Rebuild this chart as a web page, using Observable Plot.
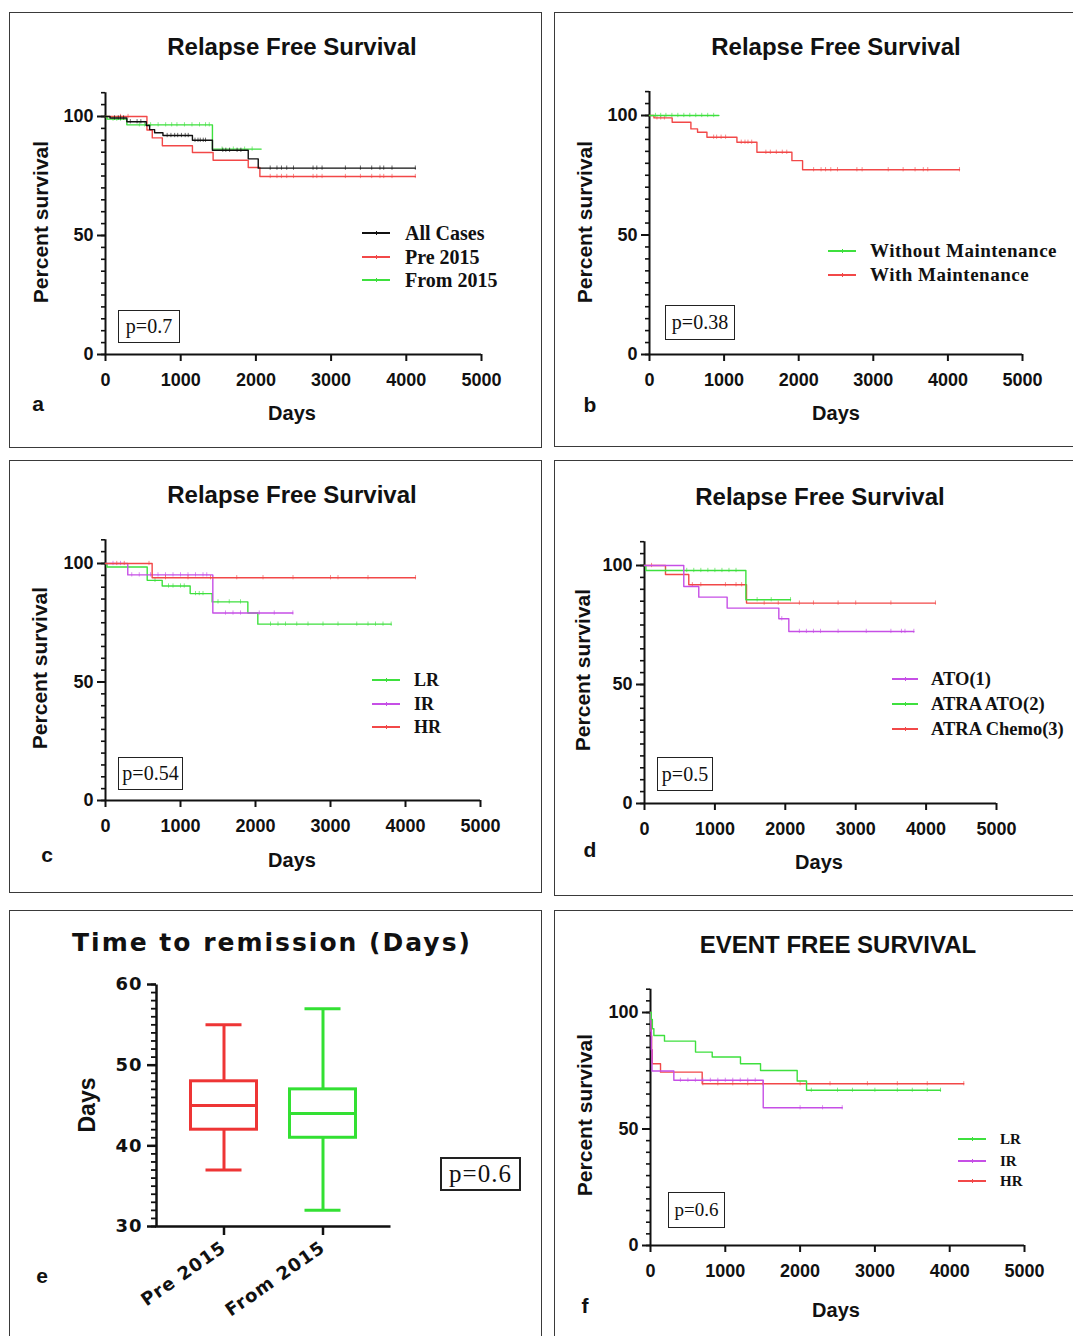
<!DOCTYPE html>
<html><head><meta charset="utf-8">
<script src="https://cdn.jsdelivr.net/npm/d3@7"></script>
<script src="https://cdn.jsdelivr.net/npm/@observablehq/plot@0.6"></script>
<style>
body{margin:0;background:#fff;}
#wrap{position:relative;width:1073px;height:1336px;overflow:hidden;background:#fff;}
.panel{position:absolute;border:1.6px solid #3a3a3a;box-sizing:border-box;}
.t{position:absolute;white-space:nowrap;color:#111;line-height:1;}
.c{transform:translate(-50%,-50%);}
.v{transform:translate(-50%,-50%) rotate(-90deg);}
.title{font:bold 24px 'Liberation Sans',Arial,sans-serif;}
.axl{font:bold 20px 'Liberation Sans',Arial,sans-serif;}
.axv{font:bold 21px 'Liberation Sans',Arial,sans-serif;}
.leg{font:bold 20px 'Liberation Serif','Times New Roman',serif;transform:translateY(-50%);}
.pbox{position:absolute;border:1.6px solid #222;font:20px 'Liberation Serif','Times New Roman',serif;display:flex;align-items:center;justify-content:center;box-sizing:border-box;color:#111;}
.lt{font:bold 21px 'Liberation Sans',Arial,sans-serif;}
.ll{position:absolute;height:1.4px;}
.lm{position:absolute;width:1px;height:4px;}
</style></head><body><div id="wrap"></div>
<script>
// ---------- Panel a: Relapse Free Survival ----------
const aAllDays = [0, 60, 284, 542, 587, 653, 764, 1156, 1422, 1898, 2031];
const aAllSurv = [100, 99.4, 97.8, 96.2, 94.5, 93.2, 92.0, 90.0, 85.8, 82.2, 78.3];
const aAllEnd = 4120;
const aAllCens = [120, 170, 200, 240, 330, 420, 470, 820, 870, 920, 960, 1010, 1060, 1100, 1190, 1230, 1260, 1300, 1330, 1560, 1600, 1650, 1750, 1800, 2190, 2280, 2340, 2410, 2500, 2760, 2810, 2880, 3190, 3390, 3540, 3650, 3700, 3810, 4120];
const aPreDays = [0, 551, 622, 756, 1156, 1431, 1898, 2053];
const aPreSurv = [100, 94.3, 91.0, 87.7, 84.9, 81.6, 78.6, 74.8];
const aPreEnd = 4120;
const aPreCens = [200, 300, 2190, 2280, 2340, 2410, 2500, 2760, 2810, 2880, 3190, 3390, 3540, 3650, 3700, 3810, 4120];
const aFromDays = [0, 20, 284, 1422];
const aFromSurv = [100, 98.9, 96.5, 86.3];
const aFromEnd = 2070;
const aFromCens = [100, 150, 200, 450, 520, 600, 700, 800, 880, 950, 1050, 1150, 1250, 1330, 1380, 1550, 1700, 1850, 1950];

// ---------- Panel b ----------
const bWithoutDays = [0];
const bWithoutSurv = [100];
const bWithoutEnd = 930;
const bWithoutCens = [80, 150, 220, 300, 380, 460, 540, 620, 700, 780, 860];
const bWithDays = [0, 60, 304, 555, 644, 770, 1172, 1440, 1909, 2052];
const bWithSurv = [100, 99.0, 97.2, 94.4, 93.0, 90.9, 88.8, 84.6, 81.1, 77.3];
const bWithEnd = 4155;
const bWithCens = [100, 150, 200, 860, 900, 960, 1020, 1230, 1280, 1320, 1370, 1560, 1620, 1700, 1780, 1840, 2200, 2300, 2360, 2430, 2520, 2780, 2850, 3200, 3400, 3560, 3670, 3730, 4155];

// ---------- Panel c ----------
const cLRDays = [0, 20, 556, 756, 1129, 1422, 1898, 2031];
const cLRSurv = [100, 98.5, 92.9, 90.5, 87.3, 83.8, 79.1, 74.4];
const cLREnd = 3809;
const cLRCens = [660, 840, 900, 1000, 1050, 1200, 1250, 1300, 1500, 1650, 1800, 2200, 2300, 2400, 2550, 2700, 2900, 3100, 3350, 3500, 3600, 3700, 3809];
const cIRDays = [0, 297, 1431];
const cIRSurv = [100, 95.2, 79.1];
const cIREnd = 2498;
const cIRCens = [100, 200, 350, 450, 600, 700, 800, 900, 1000, 1100, 1200, 1300, 1350, 1600, 1700, 1800, 2050, 2250, 2498];
const cHRDays = [0, 622];
const cHRSurv = [100, 94.0];
const cHREnd = 4133;
const cHRCens = [150, 250, 580, 800, 1100, 1400, 1750, 2100, 2500, 3000, 3100, 3500, 4133];

// ---------- Panel d ----------
const dATODays = [0, 558, 771, 1174, 1908, 2050];
const dATOSurv = [100, 91.2, 86.7, 82.1, 77.6, 72.3];
const dATOEnd = 3826;
const dATOCens = [1950, 2200, 2300, 2400, 2500, 2750, 3150, 3500, 3650, 3700, 3826];
const dAtraAtoDays = [0, 20, 1440];
const dAtraAtoSurv = [100, 97.9, 85.6];
const dAtraAtoEnd = 2074;
const dAtraAtoCens = [300, 600, 700, 800, 900, 1000, 1100, 1200, 1300, 1600, 1800, 2074];
const dChemoDays = [0, 298, 629, 1449];
const dChemoSurv = [100, 96.2, 91.9, 84.2];
const dChemoEnd = 4133;
const dChemoCens = [100, 680, 800, 1150, 1300, 1380, 1700, 1900, 2200, 2400, 2750, 3000, 3500, 4133];

// ---------- Panel e: Time to remission ----------
const eGroups = ["Pre 2015", "From 2015"];
const eMin = [37, 32];
const eQ1 = [42, 41];
const eMed = [45, 44];
const eQ3 = [48, 47];
const eMax = [55, 57];

// ---------- Panel f: Event free survival ----------
const fLRDays = [0, 10, 25, 45, 187, 602, 825, 1203, 1471, 1961, 2086];
const fLRSurv = [100, 97, 93, 90.1, 87.7, 83.0, 80.9, 78.0, 75.1, 70.6, 66.6];
const fLREnd = 3877;
const fLRCens = [2150, 2500, 2700, 3000, 3300, 3500, 3700, 3877];
const fIRDays = [0, 5, 12, 20, 312, 1507];
const fIRSurv = [100, 92, 84, 74.9, 70.9, 59.1];
const fIREnd = 2563;
const fIRCens = [400, 500, 600, 700, 800, 900, 1000, 1100, 1200, 1300, 1400, 2000, 2300, 2563];
const fHRDays = [0, 5, 10, 15, 23, 134, 691];
const fHRSurv = [100, 95, 90, 84, 78, 74.4, 69.4];
const fHREnd = 4188;
const fHRCens = [700, 900, 1100, 1300, 1500, 2000, 2400, 2900, 3300, 3700, 4188];

const xTicks = [0, 1000, 2000, 3000, 4000, 5000];
const RED = "#f24848", GREEN = "#3ee03e", BLACK = "#111", PURPLE = "#c64fe6";

const wrap = document.getElementById("wrap");

function survAt(days, surv, t) {
  let v = surv[0];
  for (let i = 0; i < days.length; i++) if (days[i] <= t) v = surv[i];
  return v;
}

function panel(l, t, w, h) {
  const d = document.createElement("div");
  d.className = "panel";
  Object.assign(d.style, {left: l + "px", top: t + "px", width: w + "px", height: h + "px"});
  wrap.appendChild(d);
}
function text(x, y, s, cls, extra) {
  const d = document.createElement("div");
  d.className = "t " + cls;
  d.textContent = s;
  Object.assign(d.style, {left: x + "px", top: y + "px"}, extra || {});
  wrap.appendChild(d);
}
function pbox(x, y, w, h, s, extra) {
  const d = document.createElement("div");
  d.className = "pbox";
  d.textContent = s;
  Object.assign(d.style, {left: x + "px", top: y + "px", width: w + "px", height: h + "px"}, extra || {});
  wrap.appendChild(d);
}
function legend(x1, x2, tx, ys, items, extra) {
  items.forEach((it, i) => {
    const y = ys[i];
    const l = document.createElement("div");
    l.className = "ll";
    Object.assign(l.style, {left: x1 + "px", top: (y - 0.7) + "px", width: (x2 - x1) + "px", background: it.color});
    wrap.appendChild(l);
    const m = document.createElement("div");
    m.className = "lm";
    Object.assign(m.style, {left: ((x1 + x2) / 2) + "px", top: (y - 2) + "px", background: it.color});
    wrap.appendChild(m);
    text(tx, y, it.label, "leg", extra);
  });
}

function km(p) {
  const ppu = (p.y0 - p.y100) / 100;
  const topPx = p.y0 - 110 * ppu;
  const marks = [
    Plot.axisY({ticks: d3.range(0, 111, 5), tickSize: 4, tickFormat: () => "", strokeWidth: 1.6, label: null}),
    Plot.axisY({ticks: [0, 50, 100], tickSize: 8, tickPadding: 4, strokeWidth: 2, label: null}),
    Plot.axisX({ticks: xTicks, tickSize: 7, tickPadding: 12, strokeWidth: 2, tickFormat: d => String(d), label: null}),
    Plot.ruleX([0], {strokeWidth: 2, stroke: "#111"}),
    Plot.ruleY([0], {strokeWidth: 2, stroke: "#111"})
  ];
  for (const s of p.series) {
    const pts = s.days.map((d, i) => ({x: d, y: s.surv[i]})).concat([{x: s.end, y: s.surv[s.surv.length - 1]}]);
    marks.push(Plot.line(pts, {x: "x", y: "y", stroke: s.color, strokeWidth: 1.4, curve: "step-after"}));
    const cs = s.cens.map(tt => ({x: tt, y: survAt(s.days, s.surv, tt)}));
    marks.push(Plot.ruleX(cs, {x: "x", y1: d => d.y - 0.9, y2: d => d.y + 0.9, stroke: s.color, strokeWidth: 0.8, strokeOpacity: 0.8}));
  }
  const svg = Plot.plot({
    width: p.w, height: p.h,
    marginLeft: p.x0 - p.left, marginRight: p.left + p.w - p.x5k,
    marginTop: topPx - p.top, marginBottom: p.top + p.h - p.y0,
    x: {domain: [0, 5000]}, y: {domain: [0, 110]},
    style: {fontFamily: "'Liberation Sans', Arial, sans-serif", fontSize: "18px", fontWeight: "bold", background: "none", overflow: "visible", color: "#111"},
    marks
  });
  Object.assign(svg.style, {position: "absolute", left: p.left + "px", top: p.top + "px"});
  wrap.appendChild(svg);
}

// ----- Panel a -----
panel(9, 12, 533, 436);
km({left: 9, top: 12, w: 532, h: 435, x0: 105, x5k: 481, y0: 354, y100: 116, series: [
  {days: aPreDays, surv: aPreSurv, end: aPreEnd, cens: aPreCens, color: RED},
  {days: aFromDays, surv: aFromSurv, end: aFromEnd, cens: aFromCens, color: GREEN},
  {days: aAllDays, surv: aAllSurv, end: aAllEnd, cens: aAllCens, color: BLACK}
]});
text(292, 47, "Relapse Free Survival", "title c");
text(41, 222, "Percent survival", "axv v");
text(292, 413, "Days", "axl c");
text(38, 404, "a", "lt c");
legend(362, 390, 405, [233, 257, 280], [
  {label: "All Cases", color: BLACK}, {label: "Pre 2015", color: RED}, {label: "From 2015", color: GREEN}
]);
pbox(118, 310, 62, 33, "p=0.7");

// ----- Panel b -----
panel(554, 12, 540, 435);
km({left: 554, top: 12, w: 530, h: 434, x0: 649, x5k: 1022, y0: 354, y100: 115, series: [
  {days: bWithDays, surv: bWithSurv, end: bWithEnd, cens: bWithCens, color: RED},
  {days: bWithoutDays, surv: bWithoutSurv, end: bWithoutEnd, cens: bWithoutCens, color: GREEN}
]});
text(836, 47, "Relapse Free Survival", "title c");
text(585, 222, "Percent survival", "axv v");
text(836, 413, "Days", "axl c");
text(590, 405, "b", "lt c");
legend(828, 856, 870, [251, 275], [
  {label: "Without Maintenance", color: GREEN}, {label: "With Maintenance", color: RED}
], {fontSize: "19px", letterSpacing: "0.5px"});
pbox(665, 305, 70, 35, "p=0.38");

// ----- Panel c -----
panel(9, 460, 533, 433);
km({left: 9, top: 460, w: 532, h: 432, x0: 105, x5k: 480, y0: 800, y100: 563, series: [
  {days: cLRDays, surv: cLRSurv, end: cLREnd, cens: cLRCens, color: GREEN},
  {days: cIRDays, surv: cIRSurv, end: cIREnd, cens: cIRCens, color: PURPLE},
  {days: cHRDays, surv: cHRSurv, end: cHREnd, cens: cHRCens, color: RED}
]});
text(292, 495, "Relapse Free Survival", "title c");
text(40, 668, "Percent survival", "axv v");
text(292, 860, "Days", "axl c");
text(47, 855, "c", "lt c");
legend(372, 400, 414, [680, 704, 727], [
  {label: "LR", color: GREEN}, {label: "IR", color: PURPLE}, {label: "HR", color: RED}
], {fontSize: "18px"});
pbox(118, 757, 65, 33, "p=0.54");

// ----- Panel d -----
panel(554, 460, 540, 436);
km({left: 554, top: 460, w: 530, h: 435, x0: 644, x5k: 996, y0: 803, y100: 565, series: [
  {days: dChemoDays, surv: dChemoSurv, end: dChemoEnd, cens: dChemoCens, color: RED},
  {days: dAtraAtoDays, surv: dAtraAtoSurv, end: dAtraAtoEnd, cens: dAtraAtoCens, color: GREEN},
  {days: dATODays, surv: dATOSurv, end: dATOEnd, cens: dATOCens, color: PURPLE}
]});
text(820, 497, "Relapse Free Survival", "title c");
text(583, 670, "Percent survival", "axv v");
text(819, 862, "Days", "axl c");
text(590, 850, "d", "lt c");
legend(892, 918, 931, [679, 704, 729], [
  {label: "ATO(1)", color: PURPLE}, {label: "ATRA ATO(2)", color: GREEN}, {label: "ATRA Chemo(3)", color: RED}
], {fontSize: "18.5px"});
pbox(657, 757, 56, 34, "p=0.5");

// ----- Panel e -----
panel(9, 910, 533, 440);
(function () {
  const W = 532, H = 440, mL = 147, mR = 151, mT = 74, mB = 124;
  const fw = W - mL - mR, fh = H - mT - mB;
  const colors = ["#ee3535", "#33e033"];
  const data = eGroups.map((g, i) => ({g, min: eMin[i], q1: eQ1[i], med: eMed[i], q3: eQ3[i], max: eMax[i], c: colors[i]}));
  const svg = Plot.plot({
    width: W, height: H, marginLeft: mL, marginRight: mR, marginTop: mT, marginBottom: mB,
    x: {type: "band", domain: eGroups, paddingInner: 0, paddingOuter: 0.18},
    y: {domain: [30, 60]},
    style: {fontFamily: "'DejaVu Sans', Verdana, sans-serif", fontSize: "18px", fontWeight: "bold", background: "none", overflow: "visible", color: "#111", letterSpacing: "1px"},
    marks: [
      Plot.frame({stroke: "#111", strokeWidth: 2.5, strokeDasharray: `0 ${fw + fh} ${fw + fh}`}),
      Plot.axisY({ticks: d3.range(30, 61, 1), tickSize: 5, tickFormat: () => "", strokeWidth: 1.8, label: null}),
      Plot.axisY({ticks: [30, 40, 50, 60], tickSize: 9, tickPadding: 5, strokeWidth: 2.5, label: null}),
      Plot.axisX({tickSize: 9, tickRotate: -35, tickPadding: 10, strokeWidth: 2.5, label: null}),
      Plot.ruleX(data, {x: "g", y1: "min", y2: "q1", stroke: "c", strokeWidth: 3}),
      Plot.ruleX(data, {x: "g", y1: "q3", y2: "max", stroke: "c", strokeWidth: 3}),
      Plot.barY(data, {x: "g", y1: "q1", y2: "q3", fill: "none", stroke: "c", strokeWidth: 3, insetLeft: 16.5, insetRight: 16.5}),
      Plot.tickY(data, {x: "g", y: "med", stroke: "c", strokeWidth: 3, insetLeft: 16.5, insetRight: 16.5}),
      Plot.tickY(data, {x: "g", y: "min", stroke: "c", strokeWidth: 3, insetLeft: 31.5, insetRight: 31.5}),
      Plot.tickY(data, {x: "g", y: "max", stroke: "c", strokeWidth: 3, insetLeft: 31.5, insetRight: 31.5})
    ]
  });
  Object.assign(svg.style, {position: "absolute", left: "9px", top: "910px"});
  wrap.appendChild(svg);
})();
text(272, 942, "Time to remission (Days)", "c", {font: "bold 25px 'DejaVu Sans', Verdana, sans-serif", letterSpacing: "2px"});
text(87, 1105, "Days", "v", {font: "bold 23px 'Liberation Sans Narrow', 'Liberation Sans', sans-serif"});
text(42, 1276, "e", "lt c");
pbox(440, 1157, 81, 34, "p=0.6", {fontSize: "25px", letterSpacing: "1px", borderWidth: "2.5px"});

// ----- Panel f -----
panel(554, 910, 540, 440);
km({left: 554, top: 910, w: 530, h: 426, x0: 650, x5k: 1024, y0: 1245, y100: 1012, series: [
  {days: fHRDays, surv: fHRSurv, end: fHREnd, cens: fHRCens, color: RED},
  {days: fIRDays, surv: fIRSurv, end: fIREnd, cens: fIRCens, color: PURPLE},
  {days: fLRDays, surv: fLRSurv, end: fLREnd, cens: fLRCens, color: GREEN}
]});
text(838, 945, "EVENT FREE SURVIVAL", "title c");
text(585, 1115, "Percent survival", "axv v");
text(836, 1310, "Days", "axl c");
text(585, 1306, "f", "lt c");
legend(958, 986, 1000, [1139, 1161, 1181], [
  {label: "LR", color: GREEN}, {label: "IR", color: PURPLE}, {label: "HR", color: RED}
], {fontSize: "15px"});
pbox(668, 1192, 57, 36, "p=0.6", {fontSize: "19px"});
</script></body></html>
